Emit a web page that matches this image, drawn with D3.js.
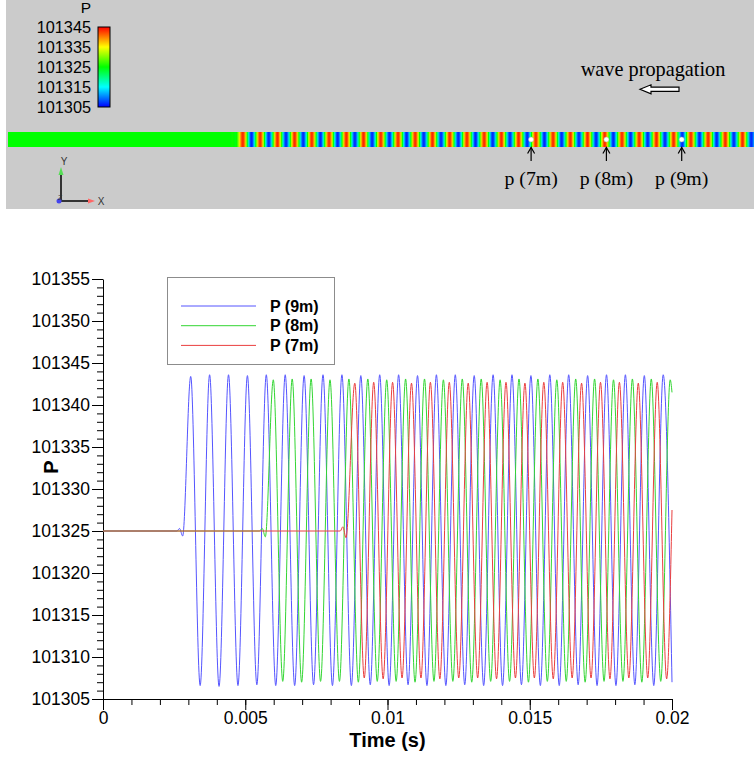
<!DOCTYPE html>
<html>
<head>
<meta charset="utf-8">
<script src="https://cdn.jsdelivr.net/npm/d3@7"></script>
<style>
  body { margin: 0; background: #fff; }
  svg { display: block; font-family: "Liberation Sans", Arial, sans-serif; }
</style>
</head>
<body>
<div id="chart"></div>
<script>
// Colour legend of the contour strip
var colorbarTicks = [101305, 101315, 101325, 101335, 101345];
var colorbarColors = ["#0000ff", "#00ffff", "#00ff00", "#ffff00", "#ff0000"];

// Probe positions along the tube (m)
var probeMeters = [7, 8, 9];
var probeLabels = ["p (7m)", "p (8m)", "p (9m)"];

// Pressure along the tube at the last time step, extrema: [x (m), P]
var stripData = [
    [0, 101325], [3.00, 101325], [3.037, 101325.3], [3.075, 101324.4],
    [3.173, 101343.5], [3.287, 101306.5], [3.402, 101343.5], [3.516, 101306.5],
    [3.631, 101343.5], [3.745, 101306.5], [3.860, 101343.5], [3.974, 101306.5],
    [4.088, 101343.5], [4.202, 101306.5], [4.317, 101343.5], [4.431, 101306.5],
    [4.546, 101343.5], [4.660, 101306.5], [4.775, 101343.5], [4.889, 101306.5],
    [5.004, 101343.5], [5.118, 101306.5], [5.233, 101343.5], [5.347, 101306.5],
    [5.461, 101343.5], [5.575, 101306.5], [5.690, 101343.5], [5.804, 101306.5],
    [5.919, 101343.5], [6.033, 101306.5], [6.148, 101343.5], [6.262, 101306.5],
    [6.377, 101343.5], [6.491, 101306.5], [6.605, 101343.5], [6.719, 101306.5],
    [6.834, 101343.5], [6.948, 101306.5], [7.063, 101343.5], [7.177, 101306.5],
    [7.292, 101343.5], [7.406, 101306.5], [7.521, 101343.5], [7.635, 101306.5],
    [7.749, 101343.5], [7.863, 101306.5], [7.978, 101343.5], [8.092, 101306.5],
    [8.207, 101343.5], [8.321, 101306.5], [8.435, 101343.5], [8.549, 101306.5],
    [8.664, 101343.5], [8.778, 101306.5], [8.893, 101343.5], [9.007, 101306.5],
    [9.122, 101343.5], [9.236, 101306.5], [9.351, 101343.5], [9.465, 101306.5],
    [9.579, 101343.5], [9.693, 101306.5], [9.808, 101343.5], [9.922, 101306.5],
    [10, 101318]
];

// Chart axes
var timeTicks = [0, 0.005, 0.01, 0.015, 0.02];
var timeTickLabels = ["0", "0.005", "0.01", "0.015", "0.02"];
var pressureTicks = [101305, 101310, 101315, 101320, 101325, 101330, 101335, 101340, 101345, 101350, 101355];

var seriesNames = ["P (9m)", "P (8m)", "P (7m)"];
var seriesColors = ["#5555ff", "#33d633", "#ea3f3f"];

// Probe signals, extrema: [t (s), P]
var p9m = [
    [0, 101325], [0.00260, 101325], [0.00269, 101325.3], [0.00280, 101324.4],
    [0.003083, 101343.4], [0.003415, 101306.6], [0.003747, 101343.6], [0.004079, 101306.5],
    [0.004412, 101343.6], [0.004744, 101306.6], [0.005076, 101343.5], [0.005408, 101306.7],
    [0.005740, 101343.6], [0.006072, 101306.6], [0.006405, 101343.6], [0.006737, 101306.6],
    [0.007069, 101343.5], [0.007401, 101306.7], [0.007733, 101343.6], [0.008065, 101306.6],
    [0.008398, 101343.6], [0.008730, 101306.6], [0.009062, 101343.5], [0.009394, 101306.7],
    [0.009726, 101343.6], [0.010058, 101306.6], [0.010391, 101343.6], [0.010723, 101306.7],
    [0.011055, 101343.5], [0.011387, 101306.6], [0.011719, 101343.6], [0.012051, 101306.6],
    [0.012383, 101343.6], [0.012715, 101306.7], [0.013048, 101343.5], [0.013380, 101306.6],
    [0.013712, 101343.6], [0.014044, 101306.6], [0.014376, 101343.6], [0.014708, 101306.7],
    [0.015041, 101343.5], [0.015373, 101306.6], [0.015705, 101343.6], [0.016037, 101306.6],
    [0.016369, 101343.6], [0.016701, 101306.7], [0.017034, 101343.5], [0.017366, 101306.6],
    [0.017698, 101343.6], [0.018030, 101306.6], [0.018362, 101343.6], [0.018694, 101306.7],
    [0.019027, 101343.5], [0.019359, 101306.6], [0.019691, 101343.6], [0.02, 101307.0]
];
var p8m = [
    [0, 101325], [0.00550, 101325], [0.00560, 101325.3], [0.005705, 101324.3],
    [0.005986, 101343.0], [0.006318, 101307.1], [0.006650, 101343.1], [0.006982, 101307.0],
    [0.007315, 101343.1], [0.007647, 101307.1], [0.007979, 101343.0], [0.008311, 101307.1],
    [0.008643, 101343.1], [0.008975, 101307.0], [0.009308, 101343.1], [0.009640, 101307.1],
    [0.009972, 101343.0], [0.010304, 101307.1], [0.010636, 101343.1], [0.010968, 101307.0],
    [0.011301, 101343.1], [0.011633, 101307.1], [0.011965, 101343.0], [0.012297, 101307.1],
    [0.012629, 101343.1], [0.012961, 101307.0], [0.013294, 101343.1], [0.013626, 101307.1],
    [0.013958, 101343.0], [0.014290, 101307.1], [0.014622, 101343.1], [0.014954, 101307.0],
    [0.015286, 101343.1], [0.015618, 101307.1], [0.015951, 101343.0], [0.016283, 101307.1],
    [0.016615, 101343.1], [0.016947, 101307.0], [0.017279, 101343.1], [0.017611, 101307.1],
    [0.017944, 101343.0], [0.018276, 101307.1], [0.018608, 101343.1], [0.018940, 101307.0],
    [0.019272, 101343.1], [0.019604, 101307.1], [0.019937, 101343.0], [0.02, 101341.5]
];
var p7m = [
    [0, 101325], [0.00834, 101325], [0.00843, 101325.5], [0.008541, 101324.2],
    [0.008851, 101342.6], [0.009183, 101307.5], [0.009515, 101342.7], [0.009847, 101307.4],
    [0.010179, 101342.7], [0.010511, 101307.5], [0.010844, 101342.6], [0.011176, 101307.5],
    [0.011508, 101342.7], [0.011840, 101307.4], [0.012172, 101342.7], [0.012504, 101307.5],
    [0.012837, 101342.6], [0.013169, 101307.5], [0.013501, 101342.7], [0.013833, 101307.4],
    [0.014165, 101342.7], [0.014497, 101307.5], [0.014830, 101342.6], [0.015162, 101307.5],
    [0.015494, 101342.7], [0.015826, 101307.4], [0.016158, 101342.7], [0.016490, 101307.5],
    [0.016822, 101342.6], [0.017154, 101307.5], [0.017487, 101342.7], [0.017819, 101307.4],
    [0.018151, 101342.7], [0.018483, 101307.5], [0.018815, 101342.6], [0.019147, 101307.5],
    [0.019480, 101342.7], [0.019812, 101307.4], [0.02, 101327.5]
];
var seriesData = [p9m, p8m, p7m];

var svg = d3.select("#chart").append("svg")
    .attr("width", 754)
    .attr("height", 757);
var defs = svg.append("defs");

// ---------- Top panel: contour snapshot ----------
svg.append("rect")
    .attr("x", 6).attr("y", 0)
    .attr("width", 748).attr("height", 209)
    .attr("fill", "#cbcbcb");

var color = d3.scaleLinear().domain(colorbarTicks).range(colorbarColors).clamp(true);

// Colour bar
var yBar = d3.scaleLinear().domain([101305, 101345]).range([107, 27]);
var barGrad = defs.append("linearGradient")
    .attr("id", "barGrad")
    .attr("x1", 0).attr("y1", 1).attr("x2", 0).attr("y2", 0);
barGrad.selectAll("stop")
    .data(colorbarTicks)
    .enter().append("stop")
    .attr("offset", function (d) { return (yBar.range()[0] - yBar(d)) / (yBar.range()[0] - yBar.range()[1]); })
    .attr("stop-color", function (d) { return color(d); });

svg.append("rect")
    .attr("x", 98).attr("y", yBar(101345))
    .attr("width", 12).attr("height", yBar(101305) - yBar(101345))
    .attr("fill", "url(#barGrad)")
    .attr("stroke", "#000").attr("stroke-width", 1);

svg.selectAll(".barlabel")
    .data(colorbarTicks)
    .enter().append("text")
    .attr("class", "barlabel")
    .attr("x", 91)
    .attr("y", function (d) { return yBar(d); })
    .attr("dy", "0.35em")
    .attr("text-anchor", "end")
    .style("font-size", "16.3px")
    .text(function (d) { return d; });

svg.append("text")
    .attr("x", 86).attr("y", 13)
    .attr("text-anchor", "middle")
    .style("font-size", "15.5px")
    .text("P");

// Contour strip
var xStrip = d3.scaleLinear().domain([0, 10]).range([4, 757]);
var stripGrad = defs.append("linearGradient")
    .attr("id", "stripGrad")
    .attr("gradientUnits", "userSpaceOnUse")
    .attr("x1", xStrip(0)).attr("y1", 0)
    .attr("x2", xStrip(10)).attr("y2", 0);

// smooth the colour between two extrema of the strip
var stops = [];
stripData.forEach(function (d, i) {
    var next = stripData[i + 1];
    if (!next) { stops.push(d); return; }
    for (var f = 0; f < 1; f += 0.125) {
        stops.push([d[0] + (next[0] - d[0]) * f, d[1] + (next[1] - d[1]) * d3.easeSinInOut(f)]);
    }
});
stripGrad.selectAll("stop")
    .data(stops)
    .enter().append("stop")
    .attr("offset", function (d) { return d[0] / 10; })
    .attr("stop-color", function (d) { return color(d[1]); });

svg.append("rect")
    .attr("x", 8).attr("y", 132)
    .attr("width", 746).attr("height", 15)
    .attr("fill", "url(#stripGrad)");

// Probes
var probes = svg.selectAll(".probe")
    .data(probeMeters)
    .enter().append("g")
    .attr("class", "probe")
    .attr("transform", function (d) { return "translate(" + xStrip(d) + ",0)"; });

probes.append("circle")
    .attr("cx", 0).attr("cy", 139.5).attr("r", 2.5)
    .attr("fill", "#fff").attr("stroke", "#aaa").attr("stroke-width", 0.5);
probes.append("line")
    .attr("x1", 0).attr("x2", 0).attr("y1", 161).attr("y2", 147.5)
    .attr("stroke", "#000").attr("stroke-width", 1.2);
probes.append("path")
    .attr("d", "M-3.5,153.5L0,147.5L3.5,153.5")
    .attr("fill", "none").attr("stroke", "#000").attr("stroke-width", 1.2);
probes.append("text")
    .attr("x", 0).attr("y", 185)
    .attr("text-anchor", "middle")
    .style("font-family", "'Liberation Serif', 'Times New Roman', serif")
    .style("font-size", "19.8px")
    .text(function (d, i) { return probeLabels[i]; });

svg.append("text")
    .attr("x", 653).attr("y", 76)
    .attr("text-anchor", "middle")
    .style("font-family", "'Liberation Serif', 'Times New Roman', serif")
    .style("font-size", "20.3px")
    .text("wave propagation");

svg.append("path")
    .attr("d", "M640,89.3L651,84.8L651,87.2L679,87.2L679,91.4L651,91.4L651,93.8Z")
    .attr("fill", "#fff").attr("stroke", "#000").attr("stroke-width", 1.2);

// Axis triad
var triad = svg.append("g").attr("transform", "translate(59,201)");
triad.append("line").attr("x1", 2).attr("y1", 0).attr("x2", 2).attr("y2", -27)
    .attr("stroke", "#333").attr("stroke-width", 2);
triad.append("line").attr("x1", 0).attr("y1", 0).attr("x2", 29).attr("y2", 0)
    .attr("stroke", "#333").attr("stroke-width", 2);
triad.append("path").attr("d", "M-0.5,-26L4.5,-26L2,-34Z").attr("fill", "#55dd55");
triad.append("path").attr("d", "M29,-2.5L29,2.5L36,0Z").attr("fill", "#ff6666");
triad.append("circle").attr("r", 2.5).attr("fill", "#4444ee");
triad.append("text").attr("x", 5).attr("y", -36).attr("text-anchor", "middle")
    .style("font-size", "10px").attr("fill", "#333").text("Y");
triad.append("text").attr("x", 42).attr("y", 0).attr("dy", "0.35em").attr("text-anchor", "middle")
    .style("font-size", "10px").attr("fill", "#333").text("X");
triad.append("text").attr("x", -1).attr("y", -1)
    .style("font-size", "7px").attr("fill", "#333").text("Z");

// ---------- Bottom panel: probe time series ----------
var x = d3.scaleLinear().domain([0, 0.02]).range([103, 672]);
var y = d3.scaleLinear().domain([101305, 101355]).range([699, 279]);

// minor ticks first, then the labelled axes on top
svg.append("g")
    .attr("transform", "translate(0,699)")
    .call(d3.axisBottom(x).tickValues(d3.range(0, 0.02001, 0.001)).tickSize(6).tickFormat(""))
    .call(function (g) { g.select(".domain").remove(); });
svg.append("g")
    .attr("transform", "translate(103,0)")
    .call(d3.axisLeft(y).tickValues(d3.range(101305, 101355.5, 1)).tickSize(6).tickFormat(""))
    .call(function (g) { g.select(".domain").remove(); });

var xAxis = svg.append("g")
    .attr("class", "x axis")
    .attr("transform", "translate(0,699)")
    .call(d3.axisBottom(x)
        .tickValues(timeTicks)
        .tickFormat(function (d, i) { return timeTickLabels[i]; })
        .tickSizeInner(11).tickSizeOuter(0).tickPadding(2));

var yAxis = svg.append("g")
    .attr("class", "y axis")
    .attr("transform", "translate(103,0)")
    .call(d3.axisLeft(y)
        .tickValues(pressureTicks)
        .tickFormat(d3.format("d"))
        .tickSizeInner(11).tickSizeOuter(0).tickPadding(2));

svg.selectAll(".axis text")
    .style("font-family", "'Liberation Sans', Arial, sans-serif")
    .style("font-size", "17.5px")
    .attr("fill", "#000");
svg.selectAll(".axis path, .axis line").attr("stroke", "#000");

svg.append("text")
    .attr("x", (x.range()[0] + x.range()[1]) / 2)
    .attr("y", 747)
    .attr("text-anchor", "middle")
    .style("font-size", "20px").style("font-weight", "bold")
    .text("Time (s)");

svg.append("text")
    .attr("transform", "translate(51,467) rotate(-90)")
    .attr("text-anchor", "middle")
    .attr("dy", "0.35em")
    .style("font-size", "20px").style("font-weight", "bold")
    .text("P");

// Lines
var line = d3.line()
    .x(function (d) { return x(d[0]); })
    .y(function (d) { return y(d[1]); })
    .curve(d3.curveMonotoneX);

svg.selectAll(".series")
    .data(seriesData)
    .enter().append("path")
    .attr("class", "series")
    .attr("fill", "none")
    .attr("stroke", function (d, i) { return seriesColors[i]; })
    .attr("stroke-width", 1)
    .attr("d", line);

// Legend
var legend = svg.append("g").attr("class", "legend");
legend.append("rect")
    .attr("x", 167.5).attr("y", 277.5)
    .attr("width", 167).attr("height", 87)
    .attr("fill", "#fff").attr("stroke", "#8c8c8c");

var items = legend.selectAll(".item")
    .data(seriesNames)
    .enter().append("g")
    .attr("class", "item")
    .attr("transform", function (d, i) { return "translate(0," + (306 + i * 19.7) + ")"; });
items.append("line")
    .attr("x1", 181).attr("x2", 256)
    .attr("stroke", function (d, i) { return seriesColors[i]; })
    .attr("stroke-width", 1);
items.append("text")
    .attr("x", 270).attr("dy", "0.35em")
    .style("font-size", "16px").style("font-weight", "bold")
    .text(function (d) { return d; });
</script>
</body>
</html>
